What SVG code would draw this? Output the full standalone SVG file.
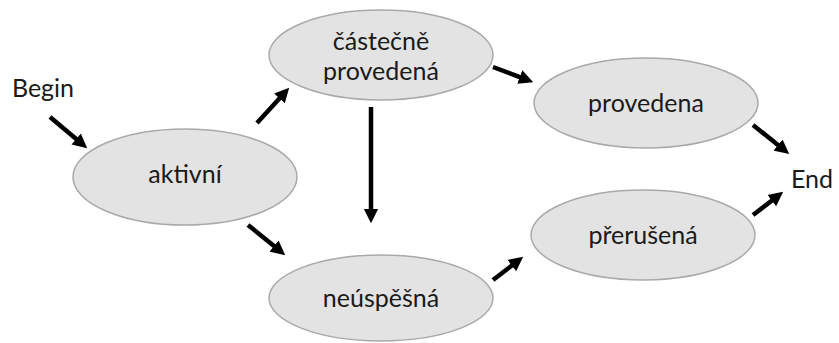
<svg xmlns="http://www.w3.org/2000/svg" width="839" height="343" viewBox="0 0 839 343">
<style>
.node ellipse{fill:#e3e3e3;stroke:#a9a9a9;stroke-width:1.5}
text{font-family:Lato,"Open Sans","Liberation Sans",sans-serif;font-size:25px;fill:#1a1a1a;text-anchor:middle}
.conn line{stroke:#000;stroke-width:4.5;marker-end:url(#ah)}
</style>
<defs>
<marker id="ah" viewBox="0 0 10 10" refX="3" refY="5" markerWidth="3.2" markerHeight="3.4" orient="auto" markerUnits="strokeWidth">
<path d="M0,0 L10,5 L0,10 z" fill="#000"/>
</marker>
</defs>
<g id="begin"><text x="43" y="97">Begin</text></g>
<g id="end"><text x="812" y="188">End</text></g>
<g id="aktivni" class="node"><ellipse cx="185" cy="177" rx="112" ry="48"/><text x="185" y="183">aktivní</text></g>
<g id="castecne" class="node"><ellipse cx="381" cy="55" rx="112" ry="45"/><text x="381" y="50">částečně</text><text x="381" y="80">provedená</text></g>
<g id="neuspesna" class="node"><ellipse cx="381" cy="298" rx="112" ry="43"/><text x="381" y="307">neúspěšná</text></g>
<g id="provedena" class="node"><ellipse cx="646" cy="103" rx="112" ry="45"/><text x="646" y="112">provedena</text></g>
<g id="prerusena" class="node"><ellipse cx="643" cy="235" rx="112" ry="45"/><text x="643" y="244">přerušená</text></g>
<g id="connectors" class="conn">
<line x1="50" y1="117" x2="79.5" y2="141.7"/>
<line x1="257" y1="123" x2="282.4" y2="95.2"/>
<line x1="493" y1="67" x2="523.8" y2="78.6"/>
<line x1="371" y1="107" x2="371" y2="213.2"/>
<line x1="248" y1="225" x2="277.4" y2="248.8"/>
<line x1="493" y1="280" x2="515.2" y2="263"/>
<line x1="753" y1="125" x2="781.4" y2="147.8"/>
<line x1="753" y1="215" x2="775.2" y2="198"/>
</g>
</svg>
